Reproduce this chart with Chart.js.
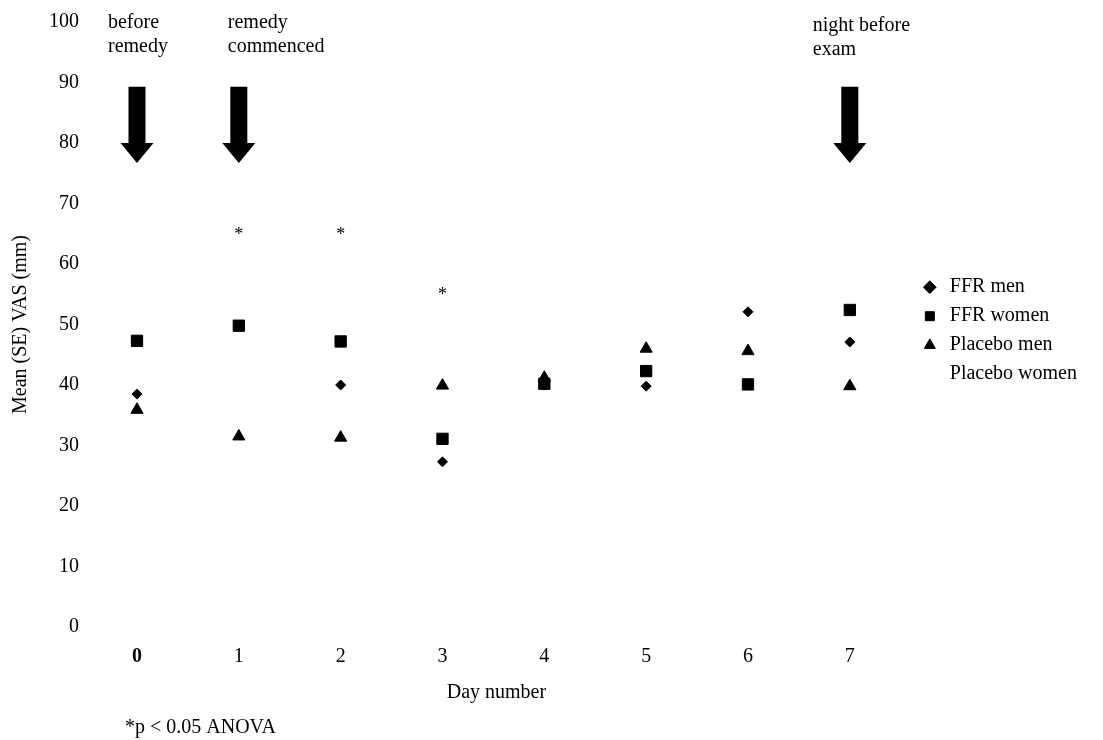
<!DOCTYPE html>
<html>
<head>
<meta charset="utf-8">
<script src="https://cdn.jsdelivr.net/npm/chart.js@4"></script>
<style>
  body { margin: 0; background: #fff; }
  canvas { display: block; }
</style>
</head>
<body>
<canvas id="chart" width="1103" height="740"></canvas>
<script>
// data
const days = [0, 1, 2, 3, 4, 5, 6, 7];
const yTicks = [0, 10, 20, 30, 40, 50, 60, 70, 80, 90, 100];
const ffrMen = [38.5, 49.8, 40.0, 27.3, 40.0, 39.8, 52.1, 47.1];
const ffrWomen = [47.3, 49.8, 47.2, 31.1, 40.2, 42.3, 40.1, 52.4];
const placeboMen = [35.9, 31.5, 31.3, 39.9, 41.2, 46.0, 45.6, 39.8];
const placeboWomen = [];   // no marker visible in the figure

// significance stars (*p < 0.05)
const sigDays = [1, 2, 3];
const sigLevels = [65.4, 65.4, 55.5];

// arrows with their notes
const arrowDays = [0, 1, 7];
const arrowNotes = [['before', 'remedy'], ['remedy', 'commenced'], ['night before', 'exam']];
const arrowTop = 89.3;
const arrowHeadBase = 80;
const arrowTip = 76.7;

const serif = "'Liberation Serif', 'Times New Roman', serif";
const font20 = { family: serif, size: 20 };

const toPoints = (vals) => vals.map((v, i) => ({ x: days[i], y: v }));

const annotationPlugin = {
    id: 'annotations',
    afterDatasetsDraw(chart) {
        const { ctx, scales: { x, y } } = chart;
        ctx.save();
        ctx.fillStyle = '#000';

        // arrows
        arrowDays.forEach(d => {
            const cx = x.getPixelForValue(d);
            const top = y.getPixelForValue(arrowTop);
            const base = y.getPixelForValue(arrowHeadBase);
            const tip = y.getPixelForValue(arrowTip);
            ctx.fillRect(cx - 8.5, top, 17, base - top + 1);
            ctx.beginPath();
            ctx.moveTo(cx - 16.5, base);
            ctx.lineTo(cx + 16.5, base);
            ctx.lineTo(cx, tip);
            ctx.closePath();
            ctx.fill();
        });

        // notes above arrows
        ctx.font = `20px ${serif}`;
        ctx.textAlign = 'left';
        ctx.textBaseline = 'middle';
        const noteShift = [-29, -11, -37];
        const noteTop = [23, 23, 26];
        arrowNotes.forEach((lines, i) => {
            const left = x.getPixelForValue(arrowDays[i]) + noteShift[i];
            lines.forEach((line, k) => ctx.fillText(line, left, noteTop[i] + k * 24));
        });

        // stars
        ctx.textAlign = 'center';
        ctx.textBaseline = 'alphabetic';
        ctx.font = `18px ${serif}`;
        sigDays.forEach((d, i) => {
            ctx.fillText('*', x.getPixelForValue(d), y.getPixelForValue(sigLevels[i]) + 9);
        });

        // footnote
        ctx.font = `20px ${serif}`;
        ctx.textAlign = 'left';
        ctx.textBaseline = 'middle';
        ctx.fillText('*p < 0.05 ANOVA', 125, 728);
        ctx.restore();
    }
};

const ctx = document.getElementById('chart').getContext('2d');
new Chart(ctx, {
    type: 'scatter',
    data: {
        datasets: [
            {
                label: 'FFR men',
                data: toPoints(ffrMen),
                pointStyle: 'rectRot',
                pointRadius: 5,
                backgroundColor: '#000',
                borderColor: '#000',
                borderWidth: 1,
                clip: false
            },
            {
                label: 'FFR women',
                data: toPoints(ffrWomen),
                pointStyle: 'rect',
                pointRadius: 8,
                backgroundColor: '#000',
                borderColor: '#000',
                borderWidth: 1,
                clip: false
            },
            {
                label: 'Placebo men',
                data: toPoints(placeboMen),
                pointStyle: 'triangle',
                pointRadius: 7,
                backgroundColor: '#000',
                borderColor: '#000',
                borderWidth: 1,
                clip: false
            },
            {
                label: 'Placebo women',
                data: placeboWomen,
                pointStyle: 'circle',
                pointRadius: 0,
                backgroundColor: 'rgba(0,0,0,0)',
                borderColor: 'rgba(0,0,0,0)',
                borderWidth: 0,
                clip: false
            }
        ]
    },
    options: {
        responsive: false,
        devicePixelRatio: 1,
        animation: false,
        layout: { padding: { top: 22, right: 16, bottom: 0, left: 0 } },
        scales: {
            x: {
                type: 'linear',
                min: -0.540,
                max: 7.599,
                grid: { display: false, drawTicks: false },
                border: { display: false },
                afterBuildTicks: (scale) => { scale.ticks = days.map(v => ({ value: v })); },
                afterFit: (scale) => { scale.height = 113; },
                ticks: {
                    color: '#000',
                    padding: 18,
                    font: (c) => ({ family: serif, size: 20, weight: c.tick && c.tick.value === 0 ? 'bold' : 'normal' })
                },
                title: {
                    display: true,
                    text: 'Day number',
                    color: '#000',
                    font: font20,
                    padding: { top: 0, bottom: 35 }
                }
            },
            y: {
                min: 0,
                max: 100,
                grid: { display: false, drawTicks: false },
                border: { display: false },
                afterBuildTicks: (scale) => { scale.ticks = yTicks.map(v => ({ value: v })); },
                afterFit: (scale) => { scale.width = 82; },
                ticks: { color: '#000', padding: 3, font: font20 },
                title: {
                    display: true,
                    text: 'Mean (SE) VAS (mm)',
                    color: '#000',
                    font: font20,
                    padding: { top: 9, bottom: 0 }
                }
            }
        },
        plugins: {
            legend: {
                position: 'right',
                align: 'center',
                fullSize: false,
                title: { display: true, text: '', font: { size: 2 }, padding: { top: 10, bottom: 0 } },
                labels: {
                    usePointStyle: true,
                    boxWidth: 20,
                    boxHeight: 9,
                    padding: 9,
                    color: '#000',
                    font: font20
                }
            },
            tooltip: { enabled: false }
        }
    },
    plugins: [annotationPlugin]
});
</script>
</body>
</html>
